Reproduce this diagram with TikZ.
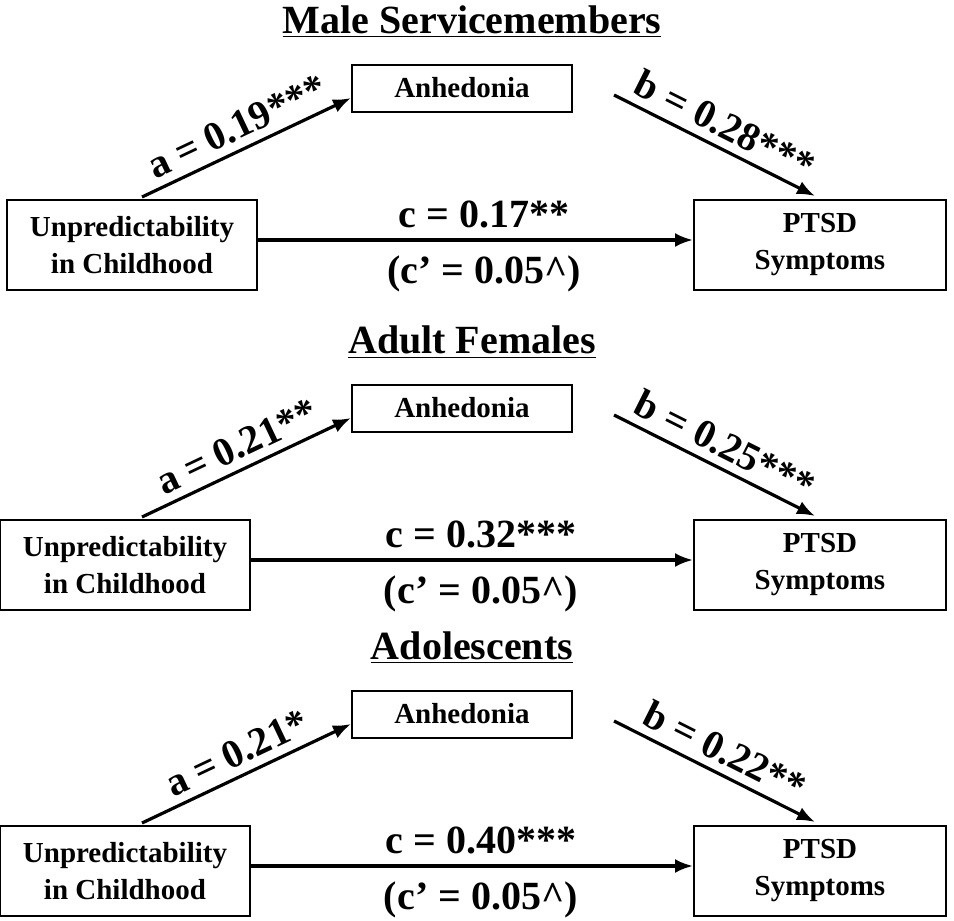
\documentclass[tikz,border=0pt]{standalone}
\usepackage{fontspec}
\setmainfont{Liberation Serif}
\usetikzlibrary{arrows.meta}

\tikzset{
  var/.style={draw, line width=1pt, inner sep=0pt, font=\bfseries\fontsize{14.5}{18.5}\selectfont, align=center},
  path/.style={line width=1.6pt, -{Latex[length=9pt,width=7pt]}},
  coef/.style={font=\bfseries\fontsize{20}{22}\selectfont, inner sep=1pt},
}

\begin{document}
\begin{tikzpicture}[x=0.5pt, y=-0.5pt]
\useasboundingbox (0,0) rectangle (954,921);

\foreach \dy/\xl/\ttl/\ca/\cb/\cc in {0/7/Male Servicemembers/0.19***/0.28***/0.17**,
    320/0/Adult Females/0.21**/0.25***/0.32***,
    626/0/Adolescents/0.21*/0.22**/0.40***}{
  % panel
  \node[font=\bfseries\fontsize{20}{22}\selectfont] (title) at (472,22+\dy) {\underline{\ttl}};
  \node[var, minimum width=110pt, minimum height=23.5pt] (anhed) at (462,88+\dy) {Anhedonia};
  \node[var, minimum width=125pt, minimum height=45pt] (unpred) at (\xl+125,245+\dy) {Unpredictability\\in Childhood};
  \node[var, minimum width=126pt, minimum height=45pt] (ptsd) at (820,245+\dy) {PTSD\\Symptoms};

  \coordinate (astart) at (142,197+\dy);
  \coordinate (bstart) at (614,95+\dy);
  \coordinate (bend) at (815,196+\dy);
  \draw[path] (astart) -- (anhed.west |- 0,98+\dy)
    node[coef, midway, above=3pt, sloped] {a = \ca};
  \draw[path] (bstart) -- (bend)
    node[coef, midway, above=3pt, sloped] {b = \cb};
  \draw[path] (unpred.east |- 0,240+\dy) -- (ptsd.west |- 0,240+\dy)
    node[coef, pos=0.52, above=4pt] {c = \cc}
    node[coef, pos=0.52, below=6pt] {(c’ = 0.05\^{})};
}
\end{tikzpicture}
\end{document}
